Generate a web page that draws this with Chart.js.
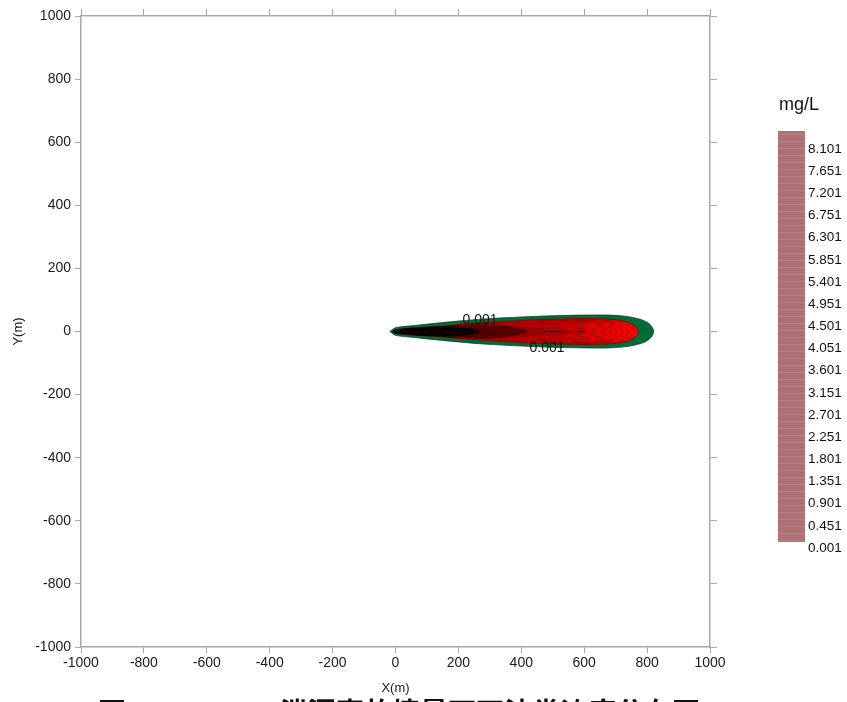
<!DOCTYPE html>
<html>
<head>
<meta charset="utf-8">
<script src="https://cdn.jsdelivr.net/npm/chart.js@4.4.1/dist/chart.umd.min.js"></script>
<style>
  html, body { margin: 0; padding: 0; background: #fff; }
</style>
</head>
<body>
<canvas id="plume" width="847" height="702"></canvas>
<script>
// axis ticks (m)
const tickValues = [-1000, -800, -600, -400, -200, 0, 200, 400, 600, 800, 1000];

// contour outlines: [x (m), half width (m)]
const c0001 = [[-18,0],[0,12],[60,19],[126,26],[200,33],[285,40],[400,46],[500,50],[600,52],[680,52],[740,47],[780,38],[805,26],[817,12],[821,0]];
const c0451 = [[-10,0],[0,5],[60,11],[126,15],[200,22],[285,28],[400,35],[500,39],[600,41],[680,39],[730,32],[755,22],[768,10],[771,0]];
const c0901 = [[-6,0],[0,4],[100,12],[250,23],[400,32],[550,37],[640,37],[700,32],[740,20],[758,0]];
const c1351 = [[-4,0],[0,3],[100,11],[250,21],[400,29],[550,34],[630,34],[690,28],[725,16],[742,0]];
const c1801 = [[-3,0],[0,3],[100,10],[250,19],[400,26],[550,31],[620,31],[680,24],[712,13],[726,0]];
const c2701 = [[-2,0],[0,2],[100,9],[250,17],[400,23],[540,27],[610,27],[665,20],[695,9],[708,0]];
const c3601 = [[0,0],[100,7],[250,15],[400,20],[530,23],[600,22],[650,15],[678,6],[688,0]];
const c4501 = [[0,0],[100,6],[250,12],[400,16],[520,18],[590,16],[635,9],[665,0]];
const c5401 = [[0,0],[100,5],[250,10],[400,13],[510,14],[570,12],[615,5],[637,0]];
const c6301 = [[0,0],[100,4],[250,7],[400,9],[500,9],[560,6],[605,0]];
const c7201 = [[0,0],[100,3],[250,5],[400,5],[480,4],[560,0]];
const cShade = [[-10,0],[0,5],[60,11],[126,15],[200,20],[280,22],[340,18],[390,10],[420,0]];
const c8101 = [[-10,0],[0,5],[60,11],[126,14],[180,14],[220,11],[250,6],[265,0]];
const centreLine = [[0,0],[620,0]];

// contour labels on the plume
const labelText = ['0.001', '0.001'];
const labelX = [269, 482];
const labelY = [36, -53];

// colour bar
const barLabels = ['8.101','7.651','7.201','6.751','6.301','5.851','5.401','4.951','4.501','4.051','3.601','3.151','2.701','2.251','1.801','1.351','0.901','0.451','0.001'];
const barUnit = 'mg/L';

const levels = [
  { pts: c0001, fill: '#006b36', line: '#1d3a28' },
  { pts: c0451, fill: '#ff0000', line: '#7a0000' },
  { pts: c0901, fill: '#ff0000', line: '#8a0000' },
  { pts: c1351, fill: '#fc0000', line: '#8a0000' },
  { pts: c1801, fill: '#f80000', line: '#8a0000' },
  { pts: c2701, fill: '#f40000', line: '#8a0000' },
  { pts: c3601, fill: '#f00000', line: '#8a0000' },
  { pts: c4501, fill: '#ec0000', line: '#8a0000' },
  { pts: c5401, fill: '#e40000', line: '#800000' },
  { pts: c6301, fill: '#d80000', line: '#700000' },
  { pts: c7201, fill: '#c80000', line: '#600000' },
  { pts: cShade, fill: 'rgba(30,0,0,0.6)', line: 'rgba(30,0,0,0.3)' },
  { pts: c8101, fill: '#0a0000', line: '#000000' }
];

function outline(pts) {
  const upper = pts.map(([x, w]) => ({ x: x, y: w }));
  const lower = pts.slice(0, -1).reverse().map(([x, w]) => ({ x: x, y: -w }));
  return upper.concat(lower);
}

const datasets = levels.map((lv, i) => ({
  data: outline(lv.pts),
  showLine: true,
  fill: 'shape',
  backgroundColor: lv.fill,
  borderColor: lv.line,
  borderWidth: 0.8,
  pointRadius: 0,
  tension: 0.3,
  order: levels.length - i + 1
}));
datasets.push({
  data: centreLine.map(([x, y]) => ({ x: x, y: y })),
  showLine: true,
  fill: false,
  borderColor: 'rgba(70,0,0,0.8)',
  borderWidth: 1,
  borderDash: [4, 3],
  pointRadius: 0,
  order: 0
});

const axisGray = '#a8a8a8';
const tickFont = { family: 'Liberation Sans, Arial, sans-serif', size: 14 };

function fixTicks(s) { s.ticks = tickValues.map(v => ({ value: v })); }

const overlay = {
  id: 'overlay',
  afterDatasetsDraw(chart) {
    const ctx = chart.ctx;
    const xs = chart.scales.x, ys = chart.scales.y;
    ctx.save();
    ctx.fillStyle = '#111';
    ctx.font = '14px "Liberation Sans", Arial, sans-serif';
    ctx.textAlign = 'center';
    ctx.textBaseline = 'middle';
    labelText.forEach((t, i) => {
      ctx.fillText(t, xs.getPixelForValue(labelX[i]), ys.getPixelForValue(labelY[i]));
    });
    ctx.restore();
  },
  afterDraw(chart) {
    const ctx = chart.ctx;
    ctx.save();
    // colour bar
    ctx.fillStyle = '#ad7276';
    ctx.fillRect(778, 131, 27, 411);
    ctx.strokeStyle = 'rgba(200,140,145,0.5)';
    ctx.lineWidth = 1;
    for (let y = 134; y < 542; y += 7) {
      ctx.beginPath(); ctx.moveTo(778, y + 0.5); ctx.lineTo(805, y + 0.5); ctx.stroke();
    }
    ctx.fillStyle = '#111';
    ctx.font = '18px "Liberation Sans", Arial, sans-serif';
    ctx.textAlign = 'left';
    ctx.textBaseline = 'middle';
    ctx.fillText(barUnit, 779, 105);
    ctx.font = '13.5px "Liberation Sans", Arial, sans-serif';
    barLabels.forEach((t, i) => ctx.fillText(t, 808, 149 + i * 22.17));
    // caption, cut off by the bottom edge
    ctx.font = 'bold 28px "Noto Sans CJK SC", sans-serif';
    ctx.textBaseline = 'alphabetic';
    ctx.fillText('图', 98, 723);
    ctx.fillText('5.4-8  1000d', 150, 723);
    ctx.fillText('泄漏事故情景下石油类浓度分布图', 280, 723);
    ctx.restore();
  }
};

new Chart(document.getElementById('plume'), {
  type: 'scatter',
  data: { datasets: datasets },
  plugins: [overlay],
  options: {
    responsive: false,
    animation: false,
    layout: { padding: 0 },
    plugins: { legend: { display: false }, tooltip: { enabled: false } },
    scales: {
      x: {
        type: 'linear', position: 'bottom', min: -1000, max: 1000,
        afterBuildTicks: fixTicks,
        afterFit: s => { s.height = 55; },
        grid: { display: true, drawOnChartArea: false, drawTicks: true, tickLength: 6, color: axisGray },
        border: { display: true, color: axisGray, width: 1.5 },
        ticks: { color: '#1a1a1a', font: tickFont, padding: 2, maxRotation: 0, callback: v => String(v) },
        title: { display: true, text: 'X(m)', color: '#1a1a1a', font: { family: 'Liberation Sans, Arial, sans-serif', size: 13 }, padding: { top: 0, bottom: 6 } }
      },
      x2: {
        type: 'linear', position: 'top', min: -1000, max: 1000,
        afterBuildTicks: fixTicks,
        afterFit: s => { s.height = 16; },
        grid: { display: true, drawOnChartArea: false, drawTicks: true, tickLength: 7, color: axisGray },
        border: { display: true, color: axisGray, width: 1.5 },
        ticks: { display: false }
      },
      y: {
        type: 'linear', position: 'left', min: -1000, max: 1000,
        afterBuildTicks: fixTicks,
        afterFit: s => { s.width = 81; },
        grid: { display: true, drawOnChartArea: false, drawTicks: true, tickLength: 6, color: axisGray },
        border: { display: true, color: axisGray, width: 1.5 },
        ticks: { color: '#1a1a1a', font: tickFont, padding: 4, callback: v => String(v) },
        title: { display: true, text: 'Y(m)', color: '#1a1a1a', font: { family: 'Liberation Sans, Arial, sans-serif', size: 13 }, padding: { top: 11, bottom: 0 } }
      },
      y2: {
        type: 'linear', position: 'right', min: -1000, max: 1000,
        afterBuildTicks: fixTicks,
        afterFit: s => { s.width = 137; },
        grid: { display: true, drawOnChartArea: false, drawTicks: true, tickLength: 7, color: axisGray },
        border: { display: true, color: axisGray, width: 1.5 },
        ticks: { display: false }
      }
    }
  }
});
</script>
</body>
</html>
